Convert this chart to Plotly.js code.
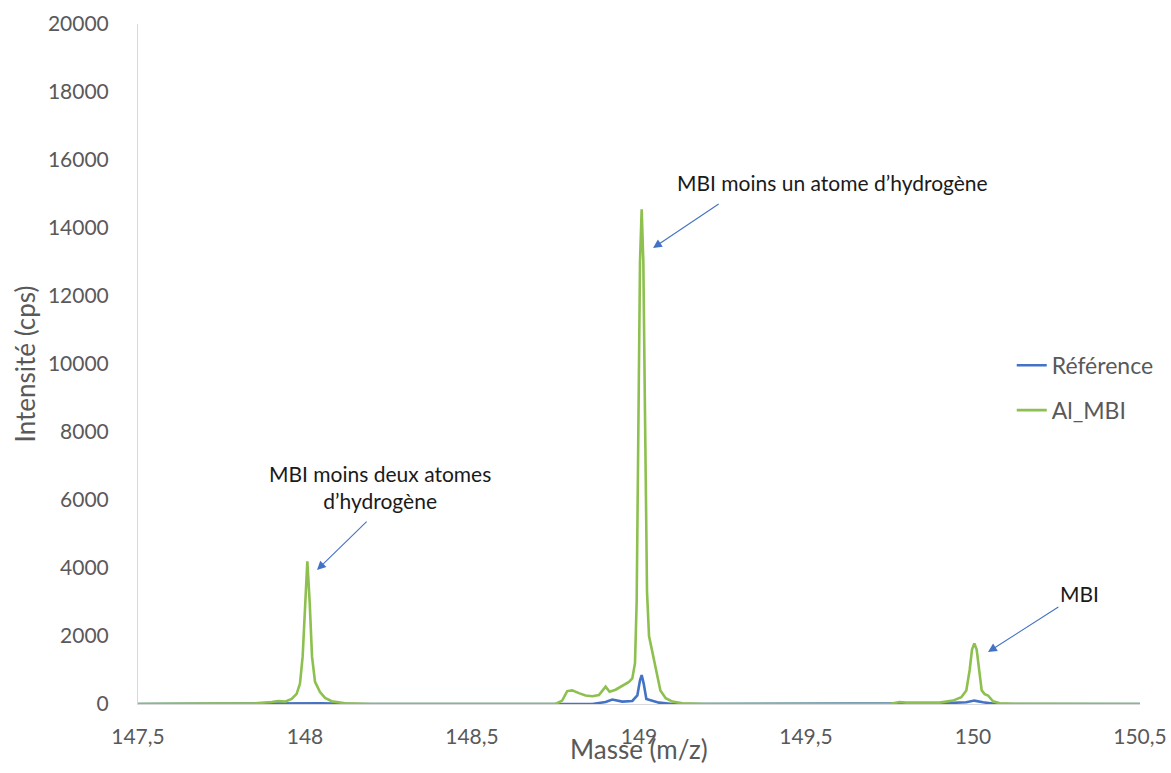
<!DOCTYPE html>
<html>
<head>
<meta charset="utf-8">
<script src="https://cdn.plot.ly/plotly-3.0.1.min.js"></script>
<style>html,body{margin:0;padding:0;background:#fff}#chart{width:1171px;height:773px}</style>
</head>
<body>
<div id="chart"></div>
<script>
// Masse (m/z) and intensité (cps)
const refMass = [147.5, 147.85, 147.9, 147.95, 148.007, 148.05, 148.15,
  148.86, 148.9, 148.92, 148.95, 148.98, 148.995, 149.003, 149.008, 149.014, 149.022, 149.04, 149.06, 149.1,
  149.8, 149.9, 149.98, 150.004, 150.03, 150.07, 150.5];
const refIntensity = [0, 10, 20, 25, 35, 20, 0,
  0, 60, 130, 70, 90, 250, 700, 850, 600, 150, 90, 40, 0,
  0, 20, 50, 100, 50, 0, 0];

const mbiMass = [147.5, 147.8, 147.85, 147.9, 147.92, 147.94, 147.96, 147.975, 147.985, 147.993, 148.0, 148.007, 148.014, 148.021, 148.03, 148.045, 148.06, 148.08, 148.12, 148.2,
  148.75, 148.77, 148.785, 148.8, 148.82, 148.84, 148.86, 148.88, 148.9, 148.912, 148.93, 148.95, 148.97, 148.98, 148.988, 148.993, 148.998, 149.003, 149.008, 149.013, 149.018, 149.024, 149.03, 149.036, 149.05, 149.064, 149.08, 149.1, 149.13, 149.2,
  149.75, 149.78, 149.8, 149.85, 149.9, 149.94, 149.965, 149.98, 149.99, 149.997, 150.004, 150.011, 150.018, 150.026, 150.035, 150.045, 150.06, 150.08, 150.12, 150.2, 150.5];
const mbiIntensity = [0, 5, 20, 60, 90, 70, 150, 300, 600, 1400, 3000, 4200, 3000, 1400, 650, 350, 180, 80, 20, 0,
  0, 100, 380, 400, 320, 250, 230, 260, 510, 360, 420, 530, 650, 750, 1200, 3000, 8000, 13000, 14550, 13000, 8500, 3300, 2000, 1700, 1100, 400, 170, 70, 20, 0,
  0, 60, 40, 30, 40, 100, 200, 400, 1000, 1600, 1780, 1600, 1000, 400, 290, 250, 80, 20, 5, 0, 0];

const xTickVals = [147.5, 148, 148.5, 149, 149.5, 150, 150.5];
const xTickText = ['147,5', '148', '148,5', '149', '149,5', '150', '150,5'];

const noteTexts = ['MBI moins un atome d’hydrogène', 'MBI moins deux atomes<br>d’hydrogène', 'MBI'];
const noteX = [149.578, 148.224, 150.32];
const noteY = [15350, 6380, 3260];
const arrowHeadX = [149.042, 148.036, 150.045];
const arrowHeadY = [13410, 3940, 1530];
const arrowTailX = [149.243, 148.189, 150.26];
const arrowTailY = [14735, 5410, 2880];

const font = 'Lato, "Open Sans", sans-serif';
const grey = '#595959';

const traces = [
  {x: refMass, y: refIntensity, name: 'Référence', type: 'scatter', mode: 'lines',
   line: {color: '#4472C4', width: 2.6}, legendgroup: 'a'},
  {x: mbiMass, y: mbiIntensity, name: 'Al_MBI', type: 'scatter', mode: 'lines',
   line: {color: '#8DC04F', width: 2.6}, legendgroup: 'b'}
];

const annotations = [];
for (let i = 0; i < noteTexts.length; i++) {
  annotations.push({x: noteX[i], y: noteY[i], xref: 'x', yref: 'y', text: noteTexts[i], showarrow: false,
    font: {family: font, size: 21, color: '#1a1a1a'}, align: 'center'});
  annotations.push({x: arrowHeadX[i], y: arrowHeadY[i], xref: 'x', yref: 'y', ax: arrowTailX[i], ay: arrowTailY[i],
    axref: 'x', ayref: 'y', text: '', showarrow: true, arrowhead: 2, arrowsize: 1.6, arrowwidth: 1.1, arrowcolor: '#4472C4'});
}
// x-axis title (sits partly over the tick labels, as in the original)
annotations.push({x: 0.5, y: -0.066, xref: 'paper', yref: 'paper', xanchor: 'center', yanchor: 'middle',
  text: 'Masse (m/z)', showarrow: false, font: {family: font, size: 26, color: grey}});

const layout = {
  width: 1171, height: 773,
  margin: {l: 138, r: 31, t: 24, b: 69},
  paper_bgcolor: '#fff', plot_bgcolor: '#fff',
  font: {family: font, color: grey, size: 21},
  showlegend: true,
  legend: {x: 0.872, y: 0.465, xanchor: 'left', yanchor: 'middle', font: {family: font, size: 23, color: grey},
    tracegroupgap: 12, bgcolor: 'rgba(0,0,0,0)'},
  xaxis: {range: [147.5, 150.5], tickvals: xTickVals, ticktext: xTickText, showgrid: false, zeroline: false,
    showline: true, linecolor: '#d9d9d9', linewidth: 1, ticks: '', ticklabelstandoff: 14,
    tickfont: {family: font, size: 21, color: grey}},
  yaxis: {range: [0, 20000], dtick: 2000, tickformat: 'd', showgrid: false, zeroline: false,
    showline: true, linecolor: '#d9d9d9', linewidth: 1, ticks: '', ticklabelstandoff: 24,
    tickfont: {family: font, size: 21, color: grey},
    title: {text: 'Intensité (cps)', font: {family: font, size: 26, color: grey}, standoff: 4}},
  annotations: annotations
};

Plotly.newPlot('chart', traces, layout, {displayModeBar: false, staticPlot: true});
</script>
</body>
</html>
